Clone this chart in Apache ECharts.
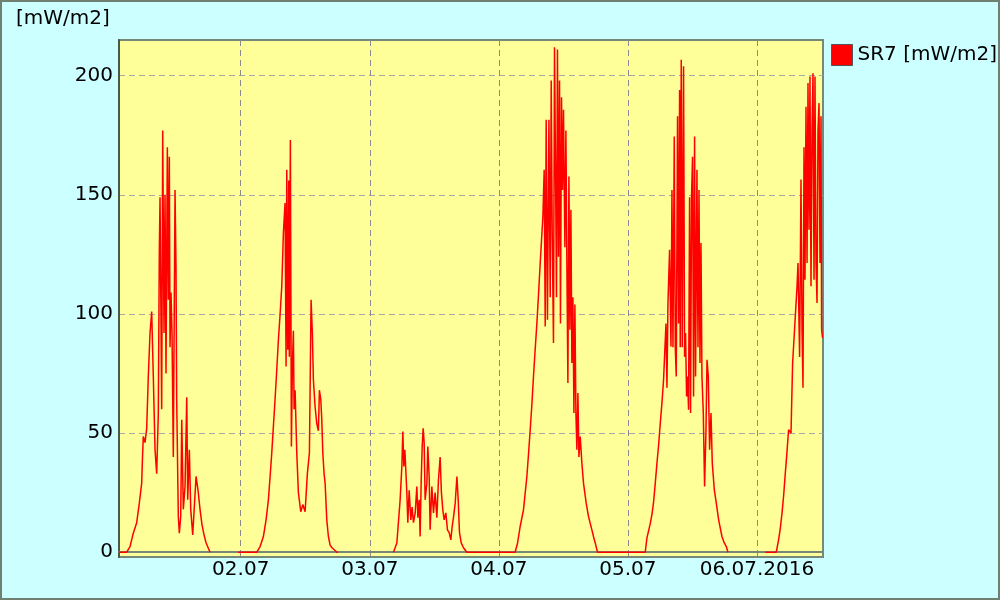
<!DOCTYPE html>
<html>
<head>
<meta charset="utf-8">
<script src="https://cdn.jsdelivr.net/npm/echarts@6/dist/echarts.min.js"></script>
<style>
  html, body { margin: 0; padding: 0; }
  #chart { width: 1000px; height: 600px; }
</style>
</head>
<body>
<div id="chart"></div>
<script>
// hours since 01.07.2016 00:00, values in mW/m2
const day1Hours = [1.36, 2.79, 3.41, 4.02, 4.65, 5.14, 5.58, 5.73, 5.88, 6.20, 6.51, 6.81, 7.13, 7.44, 7.74, 8.06, 8.37, 8.67, 8.86, 8.99, 9.30, 9.49, 9.73, 9.92, 10.10, 10.35, 10.53, 10.72, 10.85, 11.03, 11.22, 11.46, 11.78, 11.96, 12.09, 12.39, 12.58, 12.84, 13.03, 13.32, 13.64, 13.96, 14.14, 14.44, 14.70, 15.07, 15.69, 16.06, 16.43, 16.80, 17.17, 17.55, 17.92, 18.29];
const day1Values = [0, 0, 2.4, 8, 12.4, 20.6, 29, 40, 48.6, 46, 52, 73.8, 92, 101, 73.8, 43, 33, 58, 127, 149, 60, 177, 92, 150, 75, 170, 106, 166, 86, 109, 92, 40, 152, 120, 64, 15, 8, 15, 55.6, 18, 27.6, 65, 22, 43, 18, 7.3, 31.8, 26, 18, 11.5, 7.3, 4, 2, 0];

const day2Hours = [23.5, 26.98, 27.6, 28.21, 28.71, 29.14, 29.46, 29.77, 30.07, 30.38, 30.70, 31.00, 31.32, 31.63, 31.93, 32.24, 32.43, 32.56, 32.75, 32.93, 33.04, 33.23, 33.42, 33.60, 33.79, 33.92, 34.11, 34.42, 34.72, 35.16, 35.54, 35.97, 36.39, 36.77, 37.08, 37.32, 37.51, 37.83, 38.14, 38.44, 38.63, 38.89, 39.07, 39.26, 39.50, 39.69, 40.00, 40.30, 40.62, 40.93, 41.86, 42.1];
const day2Values = [0, 0, 2.4, 6.6, 13.6, 22, 31.8, 41.7, 52.8, 64, 76.6, 89, 100, 111.6, 134, 146.6, 78, 160.5, 85, 156, 82, 173, 44.4, 78, 93, 60, 68, 41.7, 25, 17, 20, 17, 33, 41.7, 106, 92, 72.4, 61, 54, 51, 68, 64, 55.6, 41.7, 33, 29, 13.6, 6.6, 3, 2, 0, 0];

const day3Hours = [52.4, 53.03, 53.64, 53.96, 54.14, 54.33, 54.52, 54.89, 55.07, 55.32, 55.63, 55.87, 56.12, 56.44, 56.75, 56.94, 57.18, 57.36, 57.55, 57.74, 57.92, 58.11, 58.29, 58.61, 58.79, 59.04, 59.22, 59.54, 59.84, 60.15, 60.47, 60.77, 61.08, 61.32, 61.58, 61.83, 62.14, 62.44, 62.76, 63.07, 63.32, 63.56, 63.88, 64.20, 64.44, 64.68, 65.00, 65.42, 66.05];
const day3Values = [0, 3.9, 22, 36, 50.7, 36, 43, 25, 12.4, 26, 13.6, 19, 12.4, 16.5, 27.6, 14.5, 22, 6.6, 29, 44.4, 52, 46, 22, 29, 44.4, 31.8, 9.4, 27.6, 16.5, 25, 14.5, 30.4, 40, 25, 17.8, 13.6, 16.5, 9.4, 8.2, 5.2, 10.8, 14.5, 20.6, 31.8, 22, 8.2, 3.9, 1.9, 0];

const day4Hours = [75.03, 75.49, 75.96, 76.58, 77.21, 77.51, 77.83, 78.14, 78.44, 78.75, 79.07, 79.37, 79.69, 80.19, 80.43, 80.62, 80.80, 81.04, 81.31, 81.55, 81.74, 81.92, 82.16, 82.35, 82.53, 82.72, 82.90, 83.09, 83.28, 83.46, 83.65, 83.84, 84.02, 84.28, 84.47, 84.65, 84.84, 85.03, 85.21, 85.40, 85.58, 85.77, 85.96, 86.14, 86.33, 86.51, 86.70, 86.89, 87.13, 87.44, 87.74, 88.24, 88.67, 89.30, 89.61, 89.92, 90.35];
const day4Values = [0, 4, 10.8, 17.8, 31.8, 41, 51.4, 62, 73.8, 85, 96, 108, 121.4, 141, 160.5, 94.8, 181.5, 97.6, 181.5, 107, 198, 135, 87.8, 212, 163.5, 107, 211, 124, 198, 96, 191, 152, 185.7, 128, 177, 121, 71, 157.7, 93.4, 143.7, 79.4, 107, 58.4, 104, 58.4, 43, 66.8, 40, 48.6, 37.4, 29, 20.6, 15, 9.4, 6.5, 3.9, 0];

const day5Hours = [99.22, 99.54, 99.85, 100.15, 100.48, 100.77, 101.09, 101.40, 101.71, 102.02, 102.34, 102.63, 103.08, 103.26, 103.45, 103.75, 104.01, 104.19, 104.38, 104.62, 104.81, 104.99, 105.23, 105.42, 105.61, 105.73, 105.92, 106.11, 106.35, 106.54, 106.72, 106.91, 107.09, 107.28, 107.47, 107.65, 107.84, 108.02, 108.21, 108.40, 108.58, 108.84, 109.03, 109.22, 109.40, 109.59, 109.77, 110.02, 110.26, 110.52, 110.71, 110.95, 111.19, 111.45, 111.69, 112.07, 112.44, 112.87, 113.49, 113.9, 114.30, 114.6];
const day5Values = [0, 6, 9, 12, 16, 21, 29, 37.4, 45, 54.2, 63, 72.4, 96, 69, 104.6, 127, 86.4, 152, 86, 174.5, 86, 73.8, 183, 96, 194, 86, 206.7, 86, 204, 82, 92, 65.4, 73.8, 59.8, 149, 58.4, 150, 166, 65.4, 174.5, 73.8, 160.5, 86, 152, 79.4, 129.8, 73.8, 58.4, 27.6, 51.4, 80.8, 73.8, 43, 58.4, 37.4, 26.2, 20.6, 13.6, 6.6, 4, 2.4, 0];

const day6Hours = [121.55, 123.59, 124.02, 124.34, 124.66, 124.97, 125.27, 125.58, 125.88, 126.33, 126.63, 127.13, 127.45, 127.63, 127.93, 128.19, 128.38, 128.56, 128.75, 128.93, 129.12, 129.31, 129.49, 129.68, 129.86, 130.05, 130.24, 130.42, 130.61, 130.79, 130.98, 131.17, 131.35, 131.54, 131.72, 131.91, 132.02, 132.2];
const day6Values = [0, 0, 5.2, 10, 16.5, 24, 33.2, 42, 51.4, 50, 79.4, 99, 111.6, 121.4, 82, 156.4, 93.4, 69, 170, 114.4, 187, 121.4, 197, 135.4, 199.7, 111.6, 177, 201, 114.4, 199.7, 121.4, 104.6, 177, 188.5, 121.4, 183, 93.4, 90];

const dayTicks = [24, 48, 72, 96, 120];
const dayLabels = ['02.07', '03.07', '04.07', '05.07', '06.07.2016'];
const valueTicks = [0, 50, 100, 150, 200];

// gaps in the record after day 1, day 2 and day 5
const segments = [
  [day1Hours, day1Values, true],
  [day2Hours, day2Values, true],
  [day3Hours, day3Values, false],
  [day4Hours, day4Values, false],
  [day5Hours, day5Values, true],
  [day6Hours, day6Values, false]
];

let data = [];
segments.forEach(seg => {
  seg[0].forEach((h, i) => data.push([h, seg[1][i]]));
  if (seg[2]) data.push([seg[0][seg[0].length - 1] + 0.01, null]);
});

const font = 'DejaVu Sans';
const chart = echarts.init(document.getElementById('chart'));
chart.setOption({
  backgroundColor: '#ccffff',
  animation: false,
  textStyle: { fontFamily: font },
  title: {
    text: '[mW/m2]',
    left: 11,
    top: 4,
    textStyle: { fontSize: 20, fontWeight: 'normal', color: '#000', fontFamily: font }
  },
  legend: {
    left: 831,
    top: 44,
    padding: 0,
    icon: 'rect',
    itemWidth: 21,
    itemHeight: 21,
    itemStyle: { color: '#ff0000', borderColor: '#555555', borderWidth: 1 },
    textStyle: { fontSize: 20, color: '#000', fontFamily: font },
    data: ['SR7 [mW/m2]']
  },
  grid: {
    left: 119,
    right: 177,
    top: 40,
    bottom: 43,
    show: true,
    backgroundColor: '#ffff99',
    borderColor: '#788878',
    borderWidth: 2
  },
  xAxis: {
    type: 'value',
    min: 1.36,
    max: 132.28,
    axisLine: { lineStyle: { color: '#788878', width: 2 } },
    axisTick: { show: false, customValues: dayTicks },
    axisLabel: {
      customValues: dayTicks,
      formatter: v => dayLabels[dayTicks.indexOf(v)] || '',
      fontSize: 20,
      color: '#000',
      margin: 3,
      fontFamily: font
    },
    splitLine: { show: true, lineStyle: { color: '#8a8a8a', type: [6, 4], width: 1 } }
  },
  yAxis: {
    type: 'value',
    min: -2,
    max: 215,
    axisLine: { show: true, lineStyle: { color: '#4a5a4a', width: 2 } },
    axisTick: { show: false, customValues: valueTicks },
    axisLabel: {
      customValues: valueTicks,
      fontSize: 20,
      color: '#000',
      margin: 6,
      fontFamily: font
    },
    splitLine: { show: true, lineStyle: { color: '#a8a8a8', type: [6, 4], width: 1 } }
  },
  series: [{
    name: 'SR7 [mW/m2]',
    type: 'line',
    data: data,
    showSymbol: false,
    connectNulls: false,
    lineStyle: { color: '#ff0000', width: 1.5 },
    itemStyle: { color: '#ff0000' }
  }],
  graphic: [{
    type: 'rect',
    shape: { x: 1, y: 1, width: 998, height: 598 },
    style: { fill: null, stroke: '#708070', lineWidth: 2 },
    silent: true
  }]
});
</script>
</body>
</html>
